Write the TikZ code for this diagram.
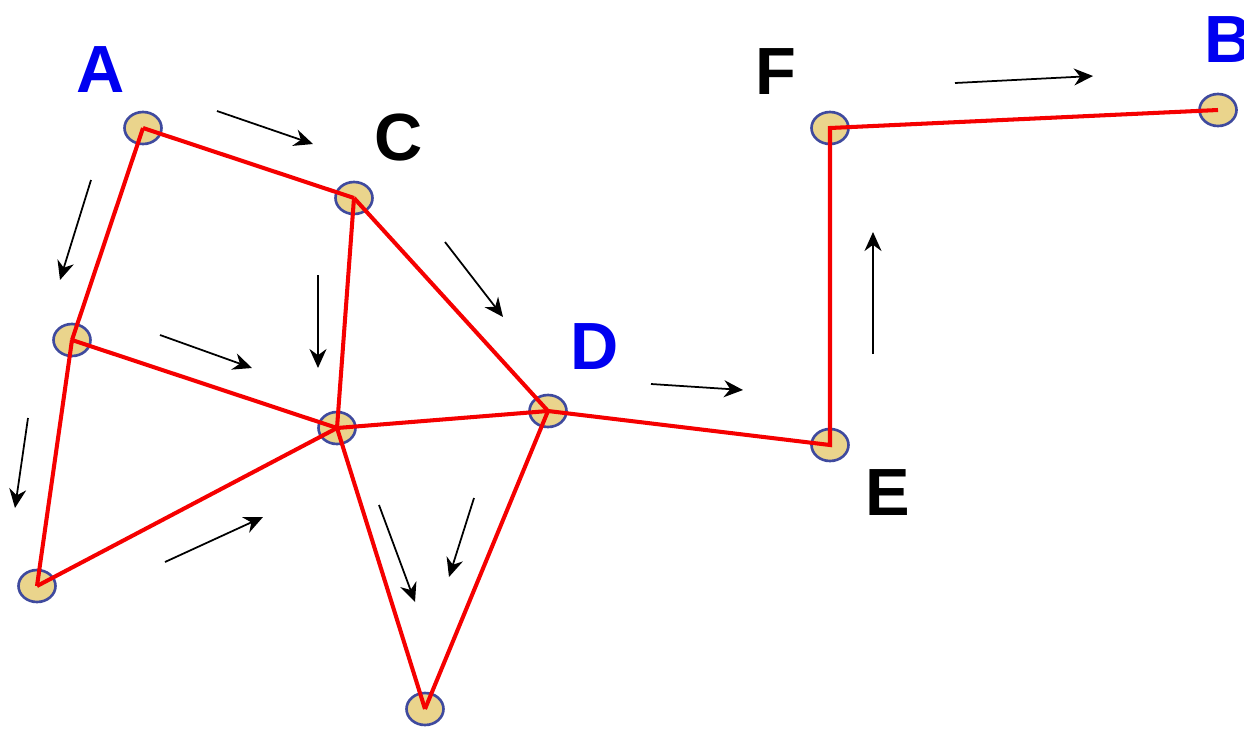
\documentclass[tikz,border=0pt]{standalone}
\usepackage{fontspec}
\setmainfont{Liberation Sans}
\usetikzlibrary{arrows.meta,shapes.geometric}
\definecolor{netred}{HTML}{F50000}
\definecolor{netfill}{HTML}{EAD48C}
\definecolor{netrim}{HTML}{3F4A9E}
\definecolor{netblue}{HTML}{0000F0}
\tikzset{
  rt/.style={shape=ellipse, draw=netrim, fill=netfill, line width=1.5pt, minimum width=7.4mm, minimum height=6.4mm, inner sep=0pt},
  lnk/.style={draw=netred, line width=2.3pt, line join=miter},
  dir/.style={-{Stealth[length=3.8mm, width=3.4mm]}, line width=1pt, color=black},
  tag/.style={font=\fontsize{38}{40}\selectfont\bfseries, inner sep=0pt},
}

\begin{document}
\begin{tikzpicture}[x=0.2mm, y=-0.2mm]
  \useasboundingbox (0,0) rectangle (1244,728);
  % routers
  \node[rt] (a) at (143,128) {};
  \node[rt] (c) at (354,198) {};
  \node[rt] (p) at (72,340) {};
  \node[rt] (m) at (337,428) {};
  \node[rt] (d) at (548,411) {};
  \node[rt] (q) at (37,586) {};
  \node[rt] (n) at (425,709) {};
  \node[rt] (e) at (830,445) {};
  \node[rt] (f) at (830,128) {};
  \node[rt] (b) at (1218,110) {};
  % labels
  \node[tag, netblue] (la) at (101,70) {A};
  \node[tag, netblue] (lb) at (1229,40) {B};
  \node[tag] (lc) at (399,138) {C};
  \node[tag, netblue] (ld) at (595,347) {D};
  \node[tag] (le) at (888,493) {E};
  \node[tag] (lf) at (776,72) {F};
  % links
  \draw[lnk] (a.center) -- (c.center);
  \draw[lnk] (a.center) -- (p.center);
  \draw[lnk] (c.center) -- (m.center);
  \draw[lnk] (c.center) -- (d.center);
  \draw[lnk] (p.center) -- (m.center);
  \draw[lnk] (p.center) -- (q.center);
  \draw[lnk] (q.center) -- (m.center);
  \draw[lnk] (m.center) -- (d.center);
  \draw[lnk] (m.center) -- (n.center);
  \draw[lnk] (d.center) -- (n.center);
  \draw[lnk] (d.center) -- (e.center) -- (f.center) -- (b.center);
  % flow arrows
  \coordinate (s1) at (217,111); \coordinate (t1) at (313,144);
  \coordinate (s2) at (91,180);  \coordinate (t2) at (60,280);
  \coordinate (s3) at (318,275); \coordinate (t3) at (318,368);
  \coordinate (s4) at (445,242); \coordinate (t4) at (503,317);
  \coordinate (s5) at (160,335); \coordinate (t5) at (252,368);
  \coordinate (s6) at (28,418);  \coordinate (t6) at (15,508);
  \coordinate (s7) at (165,562); \coordinate (t7) at (263,517);
  \coordinate (s8) at (379,505); \coordinate (t8) at (415,602);
  \coordinate (s9) at (474,498); \coordinate (t9) at (449,577);
  \coordinate (s10) at (651,384); \coordinate (t10) at (743,390);
  \coordinate (s11) at (873,354); \coordinate (t11) at (873,232);
  \coordinate (s12) at (955,83);  \coordinate (t12) at (1093,76);
  \foreach \i in {1,...,12}
    \draw[dir] (s\i) -- (t\i);
\end{tikzpicture}
\end{document}
